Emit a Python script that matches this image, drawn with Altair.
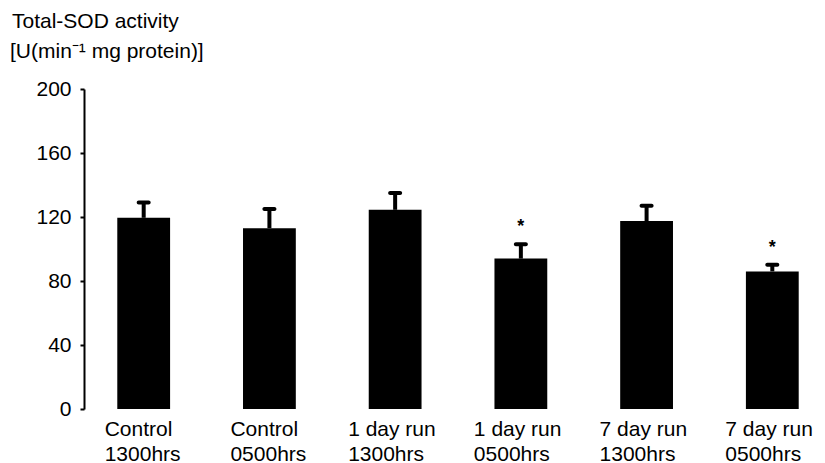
import altair as alt
import pandas as pd

categories = ["Control|1300hrs", "Control|0500hrs", "1 day run|1300hrs",
              "1 day run|0500hrs", "7 day run|1300hrs", "7 day run|0500hrs"]
means = [119.5, 113, 124.5, 94, 117.5, 86]
errors = [9.5, 12, 10.5, 9, 9.5, 4.2]
signif = ["", "", "", "*", "", "*"]
y_ticks = [0, 40, 80, 120, 160, 200]
title_lines = ["Total-SOD activity", "[U(min\u207b\u00b9 mg protein)]"]

df = pd.DataFrame({
    "group": categories,
    "mean": means,
    "upper": [m + e for m, e in zip(means, errors)],
    "sig": signif,
})

FONT = "Liberation Sans"

x_enc = alt.X(
    "group:N", sort=categories, title=None,
    scale=alt.Scale(paddingInner=0.58, paddingOuter=0.05),
    axis=alt.Axis(domain=False, ticks=False, labelAngle=0,
                  labelExpr="split(datum.value, '|')",
                  labelFont=FONT, labelFontSize=21, labelColor="black",
                  labelAlign="left",
                  labelOffset={"condition": {"test": "indexof(datum.value, 'Control') >= 0",
                                             "value": -39},
                               "value": -47},
                  labelBaseline="top", labelLineHeight=25, labelPadding=9),
)

y_scale = alt.Scale(domain=[0, 200], nice=False, zero=True)

bars = alt.Chart(df).mark_bar(color="black").encode(
    x=x_enc,
    y=alt.Y("mean:Q", scale=y_scale, title=None,
            axis=alt.Axis(values=y_ticks, grid=False, offset=27,
                          domainColor="black", domainWidth=2,
                          tickColor="black", tickWidth=2, tickSize=4,
                          labelFont=FONT, labelFontSize=21, labelColor="black",
                          labelPadding=9)),
)

stems = alt.Chart(df).mark_rule(color="black", strokeWidth=4).encode(
    x=alt.X("group:N", sort=categories),
    y=alt.Y("mean:Q", scale=y_scale),
    y2="upper:Q",
)

caps = alt.Chart(df).mark_tick(color="black", size=14, thickness=4,
                               cornerRadius=2, opacity=1).encode(
    x=alt.X("group:N", sort=categories),
    y=alt.Y("upper:Q", scale=y_scale),
)

stars = alt.Chart(df).mark_text(font=FONT, fontSize=18, fontWeight="bold",
                                color="black", baseline="middle", dy=-17).encode(
    x=alt.X("group:N", sort=categories),
    y=alt.Y("upper:Q", scale=y_scale),
    text="sig:N",
)

title1 = alt.Chart(pd.DataFrame({"t": [title_lines[0]]})).mark_text(
    font=FONT, fontSize=21, color="black", align="left", baseline="alphabetic"
).encode(text="t:N", x=alt.value(-99), y=alt.value(-61))

title2 = alt.Chart(pd.DataFrame({"t": [title_lines[1]]})).mark_text(
    font=FONT, fontSize=21, color="black", align="left", baseline="alphabetic"
).encode(text="t:N", x=alt.value(-101), y=alt.value(-31))

chart = alt.layer(bars, stems, caps, stars, title1, title2).properties(
    width=694, height=320,
    autosize=alt.AutoSizeParams(type="none"),
    padding={"left": 103, "top": 81, "right": 10, "bottom": 54},
).configure_view(stroke=None)

chart.save("out.html", embed_options={"renderer": "svg", "actions": False})
